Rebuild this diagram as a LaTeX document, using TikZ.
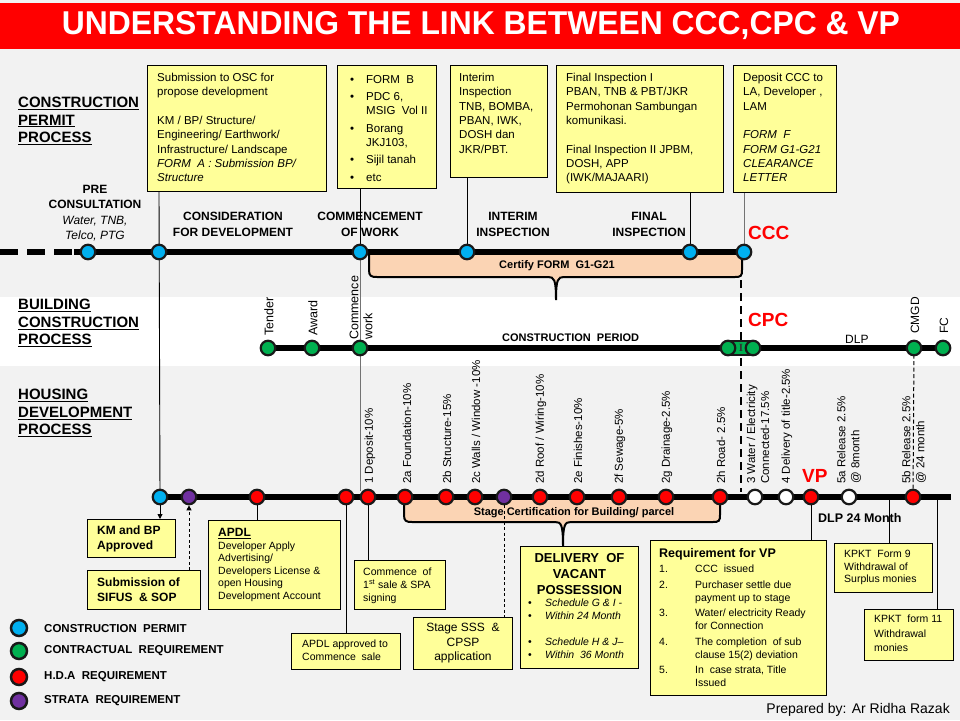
\documentclass[tikz,border=0pt]{standalone}
\usepackage{fontspec}
\setmainfont{Liberation Sans}
\newfontfamily\serifI{Liberation Serif}
\usetikzlibrary{arrows.meta}
\definecolor{bgc}{HTML}{F2F2F2}
\definecolor{titlered}{HTML}{FF0000}
\definecolor{yel}{HTML}{FFFF99}
\definecolor{peach}{HTML}{FBD4B4}
\definecolor{cblue}{HTML}{00B0F0}
\definecolor{cgreen}{HTML}{00B050}
\definecolor{cred}{HTML}{FF0000}
\definecolor{cpurple}{HTML}{7030A0}
\tikzset{
  dot/.style={circle, draw=black!90, line width=2.2pt, minimum size=14.5pt, inner sep=0pt},
  bdot/.style={dot, fill=cblue},
  gdot/.style={dot, fill=cgreen},
  rdot/.style={dot, fill=cred},
  pdot/.style={dot, fill=cpurple},
  wdot/.style={dot, fill=white},
  ldot/.style={circle, draw=black!90, line width=2.5pt, minimum size=16pt, inner sep=0pt},
  tline/.style={line width=5.5pt, black},
  conn/.style={line width=0.9pt, black},
  gconn/.style={line width=1pt, black!55},
  ybox/.style={draw=black, line width=0.9pt, fill=yel, anchor=north west, inner sep=0pt},
  btxt/.style={anchor=north west, align=left, inner sep=0pt, font=\fontsize{11.5}{14.3}\selectfont},
  stxt/.style={anchor=north west, align=left, inner sep=0pt, font=\fontsize{10.5}{12.6}\selectfont},
  rlab/.style={rotate=90, anchor=west, inner sep=0pt, align=left, font=\fontsize{11.5}{14}\selectfont},
  mlab/.style={rotate=90, anchor=west, inner sep=0pt, align=left, font=\fontsize{12.5}{14}\selectfont},
  head/.style={anchor=north west, align=left, inner sep=0pt, font=\bfseries\fontsize{15}{17.5}\selectfont},
  cat/.style={anchor=north, align=center, inner sep=0pt, font=\bfseries\fontsize{12}{16}\selectfont},
  bigred/.style={text=cred, inner sep=0pt, anchor=south west, font=\bfseries\fontsize{19}{20}\selectfont},
  bracefill/.style={fill=peach},
  braceline/.style={draw=black, line width=2pt},
  leg/.style={anchor=west, inner sep=0pt, font=\bfseries\fontsize{11.5}{13}\selectfont},
}
\begin{document}
\begin{tikzpicture}[x=1pt,y=-1pt]
\useasboundingbox (0,0) rectangle (960,720);
% backgrounds
\fill[bgc] (0,0) rectangle (960,720);
\fill[white] (0,297) rectangle (960,366);
\fill[titlered] (0,3) rectangle (960,49);
\node[text=white, inner sep=0pt, font=\bfseries\fontsize{33}{36}\selectfont] (title) at (481,26)
  {\scalebox{0.965}[1]{UNDERSTANDING THE LINK BETWEEN CCC,CPC \& VP}};

% section headings
\node[head] (hcp) at (18,97) {\underline{CONSTRUCTION}\\\underline{PERMIT}\\\underline{PROCESS}};
\node[head] (hbc) at (18,299) {\underline{BUILDING}\\\underline{CONSTRUCTION}\\\underline{PROCESS}};
\node[head] (hhd) at (18,389) {\underline{HOUSING}\\\underline{DEVELOPMENT}\\\underline{PROCESS}};

% ---------- coordinates of timeline points
\coordinate (T0) at (0,252);
\coordinate (Ts) at (74,252);
\coordinate (T1) at (88,252);
\coordinate (T2) at (159,252);
\coordinate (T3) at (360,252);
\coordinate (T4) at (467,252);
\coordinate (T5) at (690,252);
\coordinate (T6) at (744,252);

\coordinate (M1) at (268,348);
\coordinate (M2) at (312,348);
\coordinate (M3) at (360,348);
\coordinate (M4) at (728,348);
\coordinate (M5) at (753,348);
\coordinate (M6) at (914,348);
\coordinate (M7) at (943,348);

\coordinate (H1) at (160,497);
\coordinate (H2) at (189,497);
\coordinate (H3) at (257,497);
\coordinate (H4) at (346,497);
\coordinate (H5) at (368,497);
\coordinate (H6) at (405,497);
\coordinate (H7) at (446,497);
\coordinate (H8) at (475,497);
\coordinate (H9) at (504,497);
\coordinate (H10) at (540,497);
\coordinate (H11) at (577,497);
\coordinate (H12) at (619,497);
\coordinate (H13) at (666,497);
\coordinate (H14) at (720,497);
\coordinate (H15) at (755,497);
\coordinate (H16) at (786,497);
\coordinate (H17) at (811,497);
\coordinate (H18) at (849,497);
\coordinate (H19) at (913,497);
\coordinate (Hk9) at (889,497);
\coordinate (Hk11) at (937,497);
\coordinate (Hend) at (951,497);
\coordinate (Cw) at (360,491);
\coordinate (Dend) at (741,492);
\coordinate (Dtop) at (741,254);

% ---------- yellow boxes (top)
\node[ybox, minimum width=179pt, minimum height=126pt] (b1) at (147,65) {};
\node[ybox, minimum width=99pt, minimum height=123pt] (b2) at (337,65) {};
\node[ybox, minimum width=97pt, minimum height=112pt] (b3) at (450,65) {};
\node[ybox, minimum width=167pt, minimum height=127pt] (b4) at (556,65) {};
\node[ybox, minimum width=103pt, minimum height=127pt] (b5) at (733,65) {};

% connectors top
\draw[conn] (b1.south -| T2) -- (H1);
\draw[conn] (b2.south -| T3) -- (T3);
\draw[gconn] (T3) -- (Cw);
\draw[conn] (b3.south -| T4) -- (T4);
\draw[conn] (b4.south -| T5) -- (T5);
\draw[gconn] (b5.south -| T6) -- (T6);
\draw[line width=2pt, dash pattern=on 8pt off 5pt] (Dtop) -- (Dend);
\draw[line width=1pt, dash pattern=on 4pt off 2.5pt] (M6) -- (H19);

% certify brace
\fill[bracefill] (369,255) -- (369,270) .. controls (369,276) and (371,277) .. (377,277) -- (548,277) .. controls (554,277) and (556,279) .. (556,300) .. controls (556,279) and (558,277) .. (564,277) -- (735,277) .. controls (741,277) and (742,276) .. (742,270) -- (742,255) -- cycle;
\draw[braceline] (369,255) -- (369,270) .. controls (369,276) and (371,277) .. (377,277) -- (548,277) .. controls (554,277) and (556,279) .. (556,300) .. controls (556,279) and (558,277) .. (564,277) -- (735,277) .. controls (741,277) and (742,276) .. (742,270) -- (742,255);
\node[inner sep=0pt, font=\bfseries\fontsize{11}{12}\selectfont] (cert) at (557,266) {Certify FORM\ \ G1-G21};

% stage brace
\fill[bracefill] (404,499) -- (404,515) .. controls (404,521) and (406,522) .. (412,522) -- (555,522) .. controls (561,522) and (563,524) .. (563,546) .. controls (563,524) and (565,522) .. (571,522) -- (713,522) .. controls (719,522) and (720,521) .. (720,515) -- (720,499) -- cycle;
\draw[braceline] (404,499) -- (404,515) .. controls (404,521) and (406,522) .. (412,522) -- (555,522) .. controls (561,522) and (563,524) .. (563,546) .. controls (563,524) and (565,522) .. (571,522) -- (713,522) .. controls (719,522) and (720,521) .. (720,515) -- (720,499);
\node[inner sep=0pt, font=\bfseries\fontsize{11}{12}\selectfont] (stc) at (574,513) {Stage Certification for Building/ parcel};

% ---------- timelines
\draw[tline, dash pattern=on 18pt off 9pt] (T0) -- (Ts);
\draw[tline] (Ts) -- (T6);
\draw[tline] (M1) -- (M7);
\draw[tline] (H1) -- (Hend);

% top nodes
\node[bdot] (t1) at (T1) {};
\node[bdot] (t2) at (T2) {};
\node[bdot] (t3) at (T3) {};
\node[bdot] (t4) at (T4) {};
\node[bdot] (t5) at (T5) {};
\node[bdot] (t6) at (T6) {};

% middle nodes
\draw[fill=cgreen, draw=black!90, line width=2.2pt] (728,340.7) rectangle (753,355.3);
\node[gdot] (m1) at (M1) {};
\node[gdot] (m2) at (M2) {};
\node[gdot] (m3) at (M3) {};
\node[gdot] (m4) at (M4) {};
\node[gdot] (m5) at (M5) {};
\node[gdot] (m6) at (M6) {};
\node[gdot] (m7) at (M7) {};
\node[inner sep=0pt, font=\serifI\bfseries\fontsize{11}{11}\selectfont, text=black!80] (mI) at (741,348) {I};

% bottom nodes
\node[bdot] (h1) at (H1) {};
\node[pdot] (h2) at (H2) {};
\node[rdot] (h3) at (H3) {};
\node[rdot] (h4) at (H4) {};
\node[rdot] (h5) at (H5) {};
\node[rdot] (h6) at (H6) {};
\node[rdot] (h7) at (H7) {};
\node[rdot] (h8) at (H8) {};
\node[pdot] (h9) at (H9) {};
\node[rdot] (h10) at (H10) {};
\node[rdot] (h11) at (H11) {};
\node[rdot] (h12) at (H12) {};
\node[rdot] (h13) at (H13) {};
\node[rdot] (h14) at (H14) {};
\node[wdot] (h15) at (H15) {};
\node[wdot] (h16) at (H16) {};
\node[rdot] (h17) at (H17) {};
\node[wdot] (h18) at (H18) {};
\node[rdot] (h19) at (H19) {};

% ---------- top box texts
\node[btxt] (b1t) at ([xshift=10pt,yshift=-8pt]b1.north west) {Submission to OSC for\\propose development\\[14.3pt]KM / BP/ Structure/\\Engineering/ Earthwork/\\Infrastructure/ Landscape\\\textit{FORM\ \ A : Submission BP/}\\\textit{Structure}};
\node[btxt] (b2t) at ([xshift=13pt,yshift=-8pt]b2.north west) {\begin{tabular}{@{}p{16pt}@{}l@{}}
\textbullet & FORM\ \ B\\[3pt]
\textbullet & PDC 6,\\ & MSIG\ \ Vol II\\[3pt]
\textbullet & Borang\\ & JKJ103,\\[3pt]
\textbullet & Sijil tanah\\[3pt]
\textbullet & etc
\end{tabular}};
\node[btxt] (b3t) at ([xshift=9pt,yshift=-8pt]b3.north west) {Interim\\Inspection\\TNB, BOMBA,\\PBAN, IWK,\\DOSH dan\\JKR/PBT.};
\node[btxt] (b4t) at ([xshift=10pt,yshift=-8pt]b4.north west) {Final Inspection I\\PBAN, TNB \& PBT/JKR\\Permohonan Sambungan\\komunikasi.\\[14.3pt]Final Inspection II JPBM,\\DOSH, APP\\(IWK/MAJAARI)};
\node[btxt] (b5t) at ([xshift=10pt,yshift=-8pt]b5.north west) {Deposit CCC to\\LA, Developer ,\\LAM\\[14.3pt]\textit{FORM\ \ F}\\\textit{FORM G1-G21}\\\textit{CLEARANCE}\\\textit{LETTER}};

% top category labels
\node[cat, font=\bfseries\fontsize{12}{15.4}\selectfont] (lpre) at (95,185) {PRE\\CONSULTATION\\{\mdseries\itshape Water, TNB,}\\{\mdseries\itshape Telco, PTG}};
\node[cat] (lcons) at (233,212) {CONSIDERATION\\FOR DEVELOPMENT};
\node[cat] (lcomm) at (370,212) {COMMENCEMENT\\OF WORK};
\node[cat] (lint) at (513,212) {INTERIM\\INSPECTION};
\node[cat] (lfin) at (649,212) {FINAL\\INSPECTION};
\node[bigred] (ccc) at (748,240) {CCC};

% middle labels
\node[mlab] (ltender) at (269,336) {Tender};
\node[mlab] (laward) at (313,336) {Award};
\node[mlab] (lcw) at (361,340) {Commence\\work};
\node[mlab, font=\fontsize{12}{14}\selectfont] (lcmgd) at (915,334) {CMGD};
\node[mlab, font=\fontsize{12}{14}\selectfont] (lfc) at (944,334) {FC};
\node[inner sep=0pt, anchor=south west, font=\bfseries\fontsize{11}{12}\selectfont] (lcp) at (502,342) {CONSTRUCTION\ \ PERIOD};
\node[bigred] (cpc) at (748,327) {CPC};
\node[inner sep=0pt, anchor=south west, font=\fontsize{12}{12}\selectfont] (ldlp) at (845,344) {DLP};

% bottom rotated labels
\node[rlab] (r1) at (370,484) {1 Deposit-10\%};
\node[rlab] (r2a) at (407,484) {2a Foundation-10\%};
\node[rlab] (r2b) at (447,484) {2b Structure-15\%};
\node[rlab] (r2c) at (476,484) {2c Walls / Window -10\%};
\node[rlab] (r2d) at (541,484) {2d Roof / Wiring-10\%};
\node[rlab] (r2e) at (578,484) {2e Finishes-10\%};
\node[rlab] (r2f) at (620,484) {2f Sewage-5\%};
\node[rlab] (r2g) at (667,484) {2g Drainage-2.5\%};
\node[rlab] (r2h) at (721,484) {2h Road- 2.5\%};
\node[rlab] (r3) at (758,484) {3 Water / Electricity\\Connected-17.5\%};
\node[rlab] (r4) at (787,484) {4 Delivery of title-2.5\%};
\node[rlab] (r5a) at (849,484) {5a Release 2.5\%\\@ 8month};
\node[rlab] (r5b) at (914,484) {5b Release 2.5\%\\@ 24 month};
\node[bigred] (vp) at (802,483) {VP};
\node[inner sep=0pt, anchor=south west, font=\bfseries\fontsize{12.5}{13}\selectfont] (dlp24) at (818,523) {DLP 24 Month};

% ---------- bottom boxes
\node[ybox, minimum width=88pt, minimum height=38pt] (kb) at (87,519) {};
\node[ybox, minimum width=113pt, minimum height=39pt] (sf) at (87,570) {};
\node[ybox, minimum width=132pt, minimum height=89pt] (ap) at (208,520) {};
\node[ybox, minimum width=91pt, minimum height=49pt] (cs) at (354,560) {};
\node[ybox, minimum width=109pt, minimum height=36pt] (aa) at (291,633) {};
\node[ybox, minimum width=99pt, minimum height=52pt] (ss) at (413,617) {};
\node[ybox, minimum width=118pt, minimum height=122pt] (dv) at (520,546) {};
\node[ybox, minimum width=176pt, minimum height=155pt] (rv) at (650,540) {};
\node[ybox, minimum width=98pt, minimum height=49pt] (k9) at (834,543) {};
\node[ybox, minimum width=89pt, minimum height=51pt] (k11) at (864,609) {};

% bottom connectors
\draw[conn, -{Triangle[length=5pt,width=5pt]}] (h1) -- (kb.north -| H1);
\draw[conn, dash pattern=on 3pt off 2.5pt, -{Triangle[length=5pt,width=5pt]}] (sf.north -| H2) -- (h2);
\draw[conn] (h3) -- (ap.north -| H3);
\draw[conn] (h4) -- (aa.north -| H4);
\draw[conn] (h5) -- (cs.north -| H5);
\draw[conn, dash pattern=on 3pt off 2.5pt] (h9) -- (ss.north -| H9);
\draw[conn] (h17) -- (rv.north -| H17);
\draw[conn] (Hk9) -- (k9.north -| Hk9);
\draw[conn] (Hk11) -- (k11.north -| Hk11);

% bottom box texts
\node[stxt, font=\bfseries\fontsize{12}{15}\selectfont] (kbt) at ([xshift=10pt,yshift=-7pt]kb.north west) {KM and BP\\Approved};
\node[stxt, font=\bfseries\fontsize{12}{15}\selectfont] (sft) at ([xshift=10pt,yshift=-8pt]sf.north west) {Submission of\\SIFUS\ \ \& SOP};
\node[stxt] (apt) at ([xshift=10pt,yshift=-8pt]ap.north west) {{\bfseries\fontsize{12}{12}\selectfont\underline{APDL}}\\Developer Apply\\Advertising/\\Developers License \&\\open Housing\\Development Account};
\node[stxt] (cst) at ([xshift=9pt,yshift=-8pt]cs.north west) {Commence\ \ of\\1\textsuperscript{st} sale \& SPA\\signing};
\node[stxt] (aat) at ([xshift=11pt,yshift=-7pt]aa.north west) {APDL approved to\\Commence\ \ sale};
\node[inner sep=0pt, anchor=north, align=center, font=\fontsize{12}{14.5}\selectfont] (sst) at ([yshift=-6pt]ss.north) {Stage SSS\ \ \&\\CPSP\\application};
\node[inner sep=0pt, anchor=north, align=center, font=\bfseries\fontsize{13}{16}\selectfont] (dvt) at ([yshift=-7pt]dv.north) {DELIVERY\ \ OF\\VACANT\\POSSESSION};
\node[stxt, font=\itshape\fontsize{10.5}{13}\selectfont] (dvb) at (528,599) {\makebox[17pt][l]{\upshape\textbullet}Schedule G \& I -\\\makebox[17pt][l]{\upshape\textbullet}Within 24 Month\\[13pt]\makebox[17pt][l]{\upshape\textbullet}Schedule H \& J--\\\makebox[17pt][l]{\upshape\textbullet}Within\ \ 36 Month};
\node[stxt, font=\bfseries\fontsize{12.5}{13}\selectfont] (rvt) at ([xshift=9pt,yshift=-8pt]rv.north west) {Requirement for VP};
\node[stxt, font=\fontsize{10.5}{13}\selectfont] (rvl) at (659,565) {\makebox[36pt][l]{1.}CCC\ \ issued\\[2.5pt]
\makebox[36pt][l]{2.}Purchaser settle due\\\makebox[36pt][l]{}payment up to stage\\[2.5pt]
\makebox[36pt][l]{3.}Water/ electricity Ready\\\makebox[36pt][l]{}for Connection\\[2.5pt]
\makebox[36pt][l]{4.}The completion\ \ of sub\\\makebox[36pt][l]{}clause 15(2) deviation\\[2.5pt]
\makebox[36pt][l]{5.}In\ \ case strata, Title\\\makebox[36pt][l]{}Issued};
\node[stxt] (k9t) at ([xshift=10pt,yshift=-7pt]k9.north west) {KPKT\ \ Form 9\\Withdrawal of\\Surplus monies};
\node[stxt, font=\fontsize{10.5}{14.5}\selectfont] (k11t) at ([xshift=10pt,yshift=-6pt]k11.north west) {KPKT\ \ form 11\\Withdrawal\\monies};

% legend
\node[ldot, fill=cblue] (lg1) at (19,628) {};
\node[ldot, fill=cgreen] (lg2) at (19,651) {};
\node[ldot, fill=cred] (lg3) at (19,677) {};
\node[ldot, fill=cpurple] (lg4) at (19,701) {};
\node[leg] (lgt1) at (44,629) {CONSTRUCTION\ \ PERMIT};
\node[leg] (lgt2) at (44,651) {CONTRACTUAL\ \ REQUIREMENT};
\node[leg] (lgt3) at (44,677) {H.D.A\ \ REQUIREMENT};
\node[leg] (lgt4) at (44,701) {STRATA\ \ REQUIREMENT};

\node[inner sep=0pt, anchor=base east, font=\fontsize{14}{16}\selectfont] (prep) at (950,713) {Prepared by: Ar Ridha Razak};
\end{tikzpicture}
\end{document}
